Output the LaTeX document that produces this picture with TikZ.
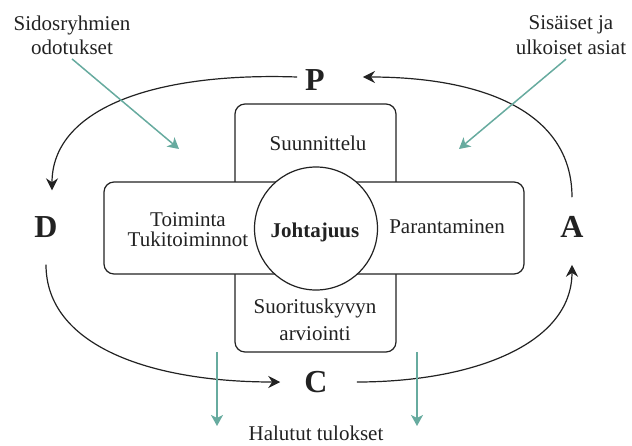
\documentclass[tikz,border=0pt]{standalone}
\usepackage{fontspec}
\setmainfont{Liberation Serif}
\usetikzlibrary{arrows.meta,calc}
\definecolor{inflow}{HTML}{67AB9F}
\definecolor{ink}{HTML}{222222}
\begin{document}
\begin{tikzpicture}[x=1pt,y=-1pt,
  txt/.style={font=\fontsize{21}{20}\selectfont, text=ink, inner sep=0pt, align=center},
  letter/.style={font=\fontsize{32}{32}\selectfont\bfseries, text=ink, inner sep=0pt},
  panel/.style={draw=ink, line width=1.2pt, rounded corners=10pt, fill=white},
  cyclearrow/.style={draw=ink, line width=1.2pt, -{Stealth[length=12pt,width=12pt,inset=4pt]}},
  influence/.style={draw=inflow, line width=1.5pt, -{Stealth[length=11pt,width=12pt,inset=3pt]}}
]
\useasboundingbox (0,0) rectangle (632,445);

% the cross of process boxes with leadership at its centre
\node[panel, minimum width=161pt, minimum height=248pt] (vbox) at (315.5,228) {};
\node[panel, minimum width=420pt, minimum height=92pt] (hbox) at (314,228) {};
\node[circle, draw=ink, fill=white, line width=1.2pt, minimum size=123pt, inner sep=0pt] (lead) at (316,228.5) {};

\node[txt, anchor=base] (plan) at (318,150) {Suunnittelu};
\node[txt, font=\fontsize{21}{20}\selectfont] (ops) at (188,229.9) {Toiminta\\Tukitoiminnot};
\node[txt, anchor=base] (improve) at (447,233) {Parantaminen};
\node[txt, anchor=base, font=\fontsize{21}{20}\selectfont\bfseries] (leadtxt) at (315,237) {Johtajuus};
\node[txt, font=\fontsize{21}{27}\selectfont] (eval) at (315,319.4) {Suorituskyvyn\\arviointi};

% PDCA letters
\node[letter] (P) at (315,80) {P};
\node[letter] (D) at (46,227) {D};
\node[letter] (A) at (572,227) {A};
\node[letter] (C) at (316,382) {C};

% the cycle
\draw[cyclearrow] ([xshift=-8pt,yshift=3pt]P.west)
  .. controls +(-147,-5) and +(0,-80) .. ([xshift=6pt,yshift=26pt]D.north);
\draw[cyclearrow] ([yshift=-27pt]D.south)
  .. controls +(0,80) and +(-132,0) .. ([xshift=-24pt]C.west);
\draw[cyclearrow] ([xshift=29pt]C.east)
  .. controls +(115,0) and +(0,80) .. ([yshift=-27pt]A.south);
\draw[cyclearrow] ([yshift=19pt]A.north)
  .. controls +(0,-87) and +(117,0) .. ([xshift=38pt,yshift=3pt]P.east);

% outside influences and results
\node[txt, font=\fontsize{21}{24}\selectfont] (stake) at (72,35.3) {Sidosryhmien\\odotukset};
\node[txt, font=\fontsize{21}{25}\selectfont] (issues) at (571,35.4) {Sisäiset ja\\ulkoiset asiat};
\node[txt, anchor=base] (results) at (316,440) {Halutut tulokset};

\coordinate (stakeTip) at (179,149);
\coordinate (issuesTip) at (459,149);
\coordinate (outLtop) at (217,352);
\coordinate (outLend) at (217,426);
\coordinate (outRtop) at (417,352);
\coordinate (outRend) at (417,426);

\draw[influence] ($(stake.south)+(0,4)$) -- (stakeTip);
\draw[influence] ($(issues.south)+(-5,4)$) -- (issuesTip);
\draw[influence] (outLtop) -- (outLend);
\draw[influence] (outRtop) -- (outRend);
\end{tikzpicture}
\end{document}
